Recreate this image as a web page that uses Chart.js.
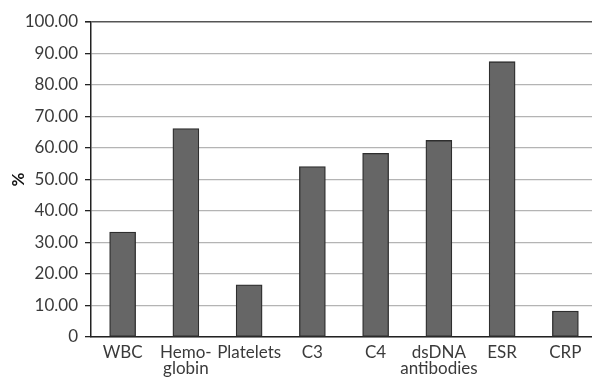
<!DOCTYPE html>
<html><head><meta charset="utf-8">
<script src="https://cdn.jsdelivr.net/npm/chart.js@4.4.0/dist/chart.umd.min.js"></script>
<style>html,body{margin:0;padding:0;overflow:hidden;background:#fff;}#wrap{width:597px;height:378px;}</style>
</head><body><div id="wrap"><canvas id="c" width="597" height="378"></canvas></div>
<script>
const categories = [['WBC'], ['Hemo-', 'globin'], ['Platelets'], ['C3'], ['C4'], ['dsDNA', 'antibodies'], ['ESR'], ['CRP']];
const percentValues = [33.3, 66.2, 16.6, 54.1, 58.3, 62.4, 87.4, 8.2];
const yTicks = [0, 10, 20, 30, 40, 50, 60, 70, 80, 90, 100];
const yTitle = '%';

const FONT = 'Lato';
new Chart(document.getElementById('c'), {
  type: 'bar',
  data: {
    labels: categories,
    datasets: [{
      data: percentValues,
      backgroundColor: '#666666',
      borderColor: '#2e2e2e',
      borderWidth: 1.3,
      barThickness: 26,
      borderSkipped: false
    }]
  },
  options: {
    responsive: false,
    animation: false,
    layout: { padding: { top: 22, left: 0, right: 0, bottom: 0 } },
    plugins: { legend: { display: false }, tooltip: { enabled: false } },
    scales: {
      x: {
        grid: { display: false, drawTicks: false },
        border: { display: true, color: '#222', width: 1.5 },
        ticks: { color: '#3a3a3a', font: { family: FONT, size: 17, lineHeight: 0.95 }, padding: 7, maxRotation: 0, autoSkip: false },
        afterFit: s => { s.height = 41; }
      },
      y: {
        min: 0, max: 100,
        afterBuildTicks: s => { s.ticks = yTicks.map(v => ({ value: v })); },
        grid: {
          color: ctx => (ctx.tick && ctx.tick.value === 100) ? '#555' : '#b4b4b4',
          lineWidth: ctx => (ctx.tick && ctx.tick.value === 100) ? 1.6 : 1.3,
          tickColor: '#222', tickLength: 6, drawTicks: true
        },
        border: { display: true, color: '#222', width: 1.5 },
        ticks: {
          color: '#3a3a3a', font: { family: FONT, size: 17 }, padding: 7,
          callback: v => v === 0 ? '0' : v.toFixed(2)
        },
        title: { display: true, text: yTitle, color: '#111', font: { family: FONT, size: 17, weight: 'bold' }, padding: { top: 8, bottom: 0 } },
        afterFit: s => { s.width = 91; }
      }
    }
  }
});
</script>
</body></html>
